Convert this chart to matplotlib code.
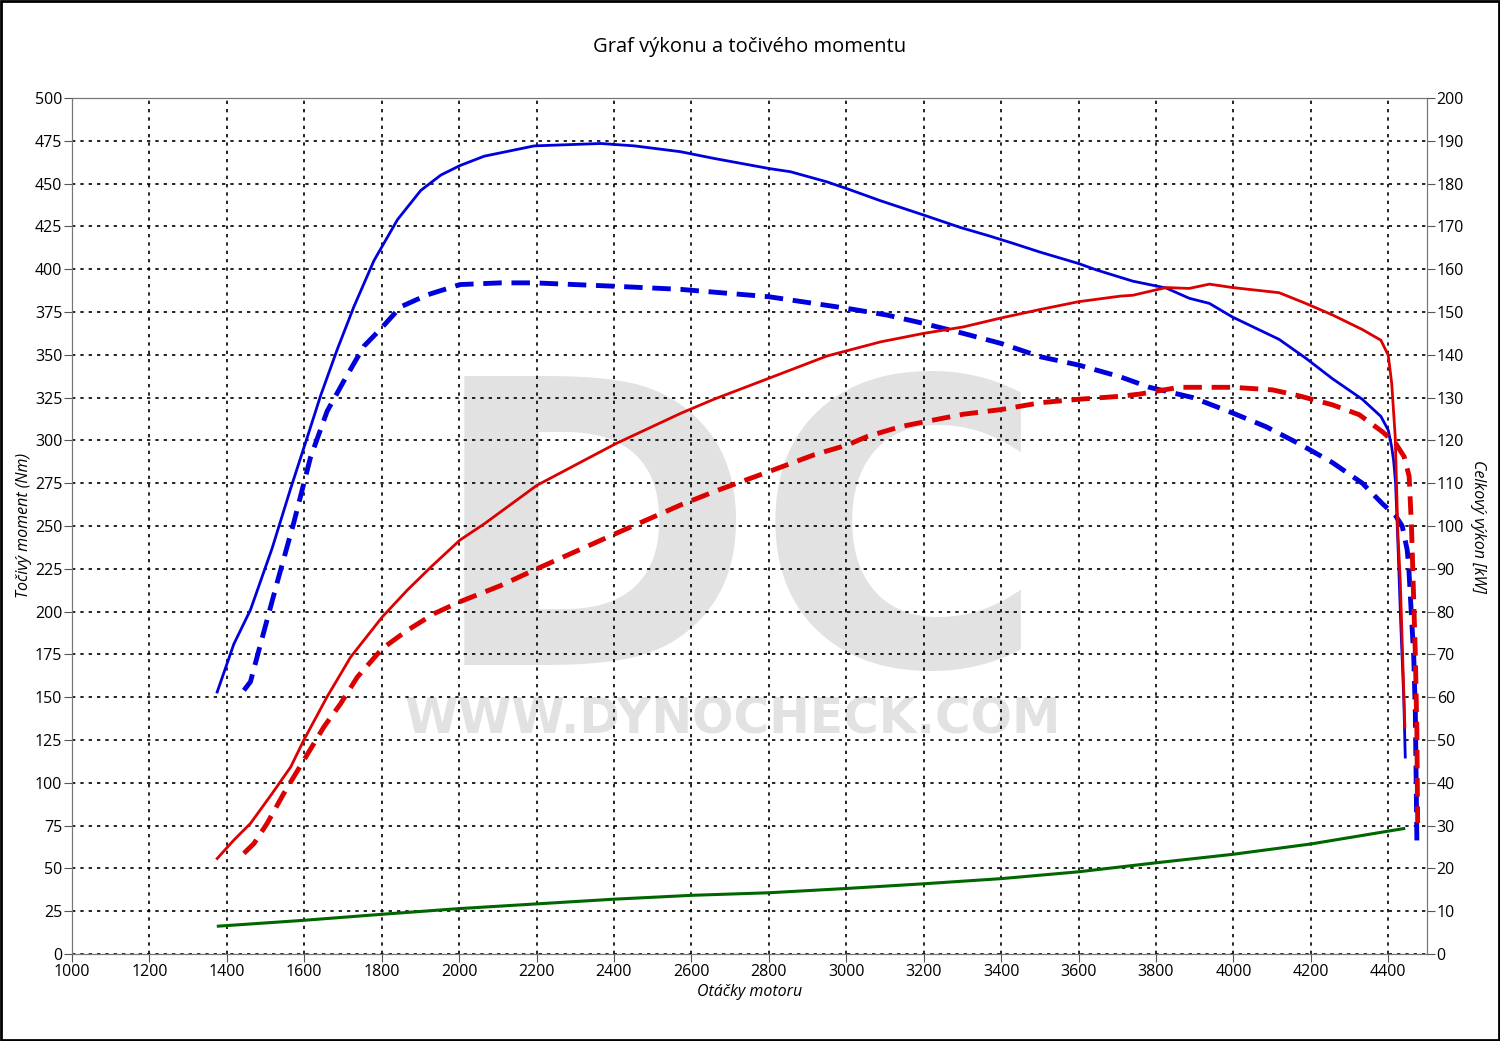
import matplotlib
matplotlib.use('Agg')
import matplotlib.pyplot as plt
from matplotlib.patches import Rectangle

plt.rcParams['font.family'] = ['Open Sans', 'DejaVu Sans']

# tuned torque (Nm)
rpm_tq = [1375, 1418, 1461, 1517, 1565, 1608, 1642, 1685, 1728, 1780, 1841, 1901, 1953, 2002,
          2065, 2194, 2366, 2453, 2572, 2658, 2800, 2856, 2950, 3002, 3088, 3200, 3294, 3371,
          3432, 3500, 3600, 3647, 3740, 3826, 3886, 3938, 3998, 4118, 4187, 4256, 4333, 4381,
          4400, 4409, 4414, 4419, 4425, 4432, 4440, 4444]
tq = [153, 181, 201, 237, 272, 302, 326, 353, 378, 405, 429, 446, 455, 460.5,
      466, 472, 473.4, 472, 468.6, 464.7, 458.8, 456.9, 451, 447, 440, 431.6, 424.4, 419.3,
      415, 410, 403.3, 399.5, 393, 389, 383, 380, 372, 359, 348, 336, 324, 314,
      306, 296, 288, 275, 240, 195, 150, 115]

# stock torque (Nm)
rpm_tq0 = [1444, 1461, 1487, 1530, 1573, 1616, 1659, 1703, 1754, 1797, 1849, 1918, 2002, 2108,
           2194, 2404, 2572, 2800, 3002, 3105, 3200, 3302, 3400, 3502, 3600, 3708, 3783, 3895,
           3998, 4084, 4170, 4256, 4333, 4385, 4419, 4436, 4449, 4453, 4466, 4470, 4474]
tq0 = [154, 159, 181, 217, 252, 290, 317, 335, 355, 365, 378, 385, 391, 392,
       392, 390, 388.2, 383.9, 377.1, 373.2, 368.3, 362.5, 356.6, 348.8, 344, 337.1, 331, 325,
       316, 308, 298, 287, 275, 263, 256, 250, 236, 226, 173, 141, 66]

# tuned power (kW)
rpm_pw = [1375, 1418, 1461, 1517, 1565, 1599, 1659, 1720, 1802, 1866, 1927, 2002, 2065, 2201,
          2404, 2572, 2658, 2800, 2950, 3088, 3200, 3302, 3400, 3502, 3600, 3708, 3740, 3826,
          3886, 3938, 3998, 4118, 4187, 4256, 4333, 4381, 4400, 4409, 4418, 4425, 4431, 4443]
pw = [22.3, 26.6, 30.5, 37.5, 43.7, 50.0, 60.1, 69.4, 78.8, 85.0, 90.4, 96.7, 100.5, 109.5,
      119.2, 126.3, 129.6, 134.5, 139.7, 143.0, 145.0, 146.5, 148.6, 150.6, 152.4, 153.7, 153.9, 155.7,
      155.5, 156.5, 155.7, 154.5, 152.0, 149.3, 145.9, 143.4, 139.9, 133.3, 120.9, 98.0, 87.4, 53.0]

# stock power (kW)
rpm_pw0 = [1444, 1470, 1504, 1547, 1599, 1651, 1694, 1737, 1802, 1866, 1935, 2002, 2108, 2201,
           2404, 2572, 2658, 2800, 2916, 3002, 3054, 3140, 3200, 3302, 3400, 3502, 3600, 3708,
           3757, 3860, 3998, 4101, 4170, 4256, 4325, 4385, 4419, 4441, 4454, 4460, 4464, 4470,
           4474, 4476]
pw0 = [23.5, 25.8, 30.5, 37.5, 45.3, 53.1, 58.5, 64.7, 71.4, 75.6, 79.5, 82.3, 86.1, 90.0,
       98.2, 104.9, 108.0, 112.7, 116.6, 118.9, 120.9, 123.2, 124.3, 126.1, 127.2, 128.8, 129.6, 130.3,
       130.8, 132.4, 132.4, 131.8, 130.4, 128.3, 126.0, 122.0, 119.3, 116.2, 111.6, 100.0, 88.0, 70.0,
       52.0, 30.6]

# loss power (kW)
rpm_loss = [1378, 1600, 1800, 2000, 2200, 2400, 2600, 2800, 3000, 3200, 3400, 3600, 3800,
            4000, 4200, 4440]
loss = [6.5, 7.87, 9.27, 10.6, 11.7, 12.8, 13.7, 14.3, 15.3, 16.4, 17.6, 19.2, 21.3,
        23.3, 25.7, 29.3]

fig = plt.figure(figsize=(15, 10.41), dpi=100)
ax = fig.add_axes([0.048, 0.0836, 0.9033, 0.8223])
ax2 = ax.twinx()

# watermark
ax.text(0.491, 0.3376, 'DC', transform=ax.transAxes, ha='center', va='baseline',
        fontsize=285, fontweight='bold', color='#e2e2e2', zorder=0, family='DejaVu Sans')
ax.text(0.488, 0.258, 'WWW.DYNOCHECK.COM', transform=ax.transAxes, ha='center', va='baseline',
        fontsize=35, fontweight='bold', color='#e2e2e2', zorder=0, family='DejaVu Sans')

ax.plot(rpm_tq, tq, color='#0000dd', lw=2, zorder=3)
ax.plot(rpm_tq0, tq0, color='#0000dd', lw=3.5, ls=(0, (3.8, 2)), zorder=3)
ax2.plot(rpm_pw, pw, color='#dd0000', lw=2, zorder=3)
ax2.plot(rpm_pw0, pw0, color='#dd0000', lw=3.5, ls=(0, (3.8, 2)), zorder=3)
ax2.plot(rpm_loss, loss, color='#006600', lw=2.2, zorder=3)

ax.set_xlim(1000, 4500)
ax.set_ylim(0, 500)
ax2.set_ylim(0, 200)
ax.set_xticks(range(1000, 4500, 200))
ax.set_yticks(range(0, 501, 25))
ax2.set_yticks(range(0, 201, 10))

ax.grid(True, color='black', ls=(0, (2, 3)), lw=1.2)
ax.set_axisbelow(True)
for a in (ax, ax2):
    for s in a.spines.values():
        s.set_color('#777777')
    a.tick_params(labelsize=11.5, length=6, color='#555555', pad=1)

ax.set_xlabel('Otáčky motoru', fontsize=11.5, style='italic', labelpad=3)
ax.set_ylabel('Točivý moment (Nm)', fontsize=11.5, style='italic', labelpad=2)
ax2.set_ylabel('Celkový výkon [kW]', fontsize=11.5, style='italic', rotation=270, labelpad=16)
fig.text(0.5, 0.955, 'Graf výkonu a točivého momentu', ha='center', va='center', fontsize=14.5)

fig.patches.append(Rectangle((0.0007, 0.001), 0.9986, 0.998, transform=fig.transFigure,
                             fill=False, edgecolor='black', lw=2))

fig.savefig('out.png', dpi=100)
